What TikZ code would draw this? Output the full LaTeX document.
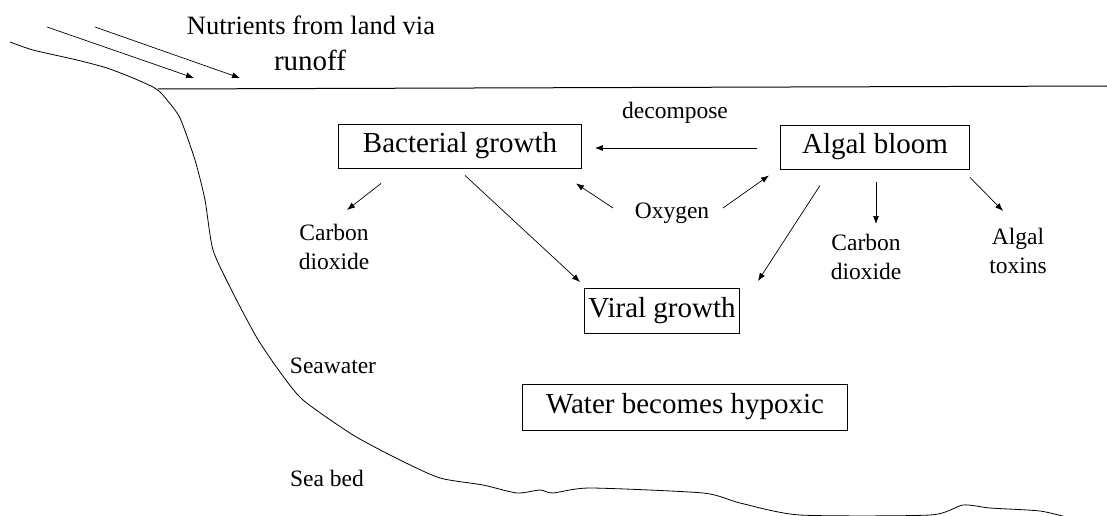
\documentclass[tikz,border=0pt]{standalone}
\usepackage{fontspec}
\setmainfont{Liberation Serif}
\usetikzlibrary{arrows.meta}

\begin{document}
\begin{tikzpicture}[x=1pt, y=-1pt,
        box/.style={draw, line width=0.9pt, minimum height=44pt, inner sep=0pt, font=\fontsize{29}{34}\selectfont},
        lbl/.style={align=center, inner sep=0pt, font=\fontsize{23.5}{29}\selectfont},
        arr/.style={-{Latex[length=8pt,width=6pt]}, line width=0.7pt}]
            \useasboundingbox (0,0) rectangle (1107,516);

            \draw[line width=0.8pt] plot[smooth, tension=0.4] coordinates {(10,42) (33,50) (77,60) (107,68) (133,78) (153,87) (160,92) (167,100) (180,118) (195,160) (205,200) (213,250) (233,293) (257,338) (280,372) (303,400) (353,435) (400,460) (440,478) (483,485) (517,493) (540,490) (553,493) (590,488) (703,493) (740,503) (800,515) (930,515) (963,505) (990,508) (1040,511) (1070,518)};
            \draw[line width=1pt] (158,89) -- (1107,86);

            \coordinate (r1) at (47,27);
            \coordinate (r1e) at (194,78);
            \coordinate (r2) at (95,27);
            \coordinate (r2e) at (240,78);
            \draw[arr] (r1) -- (r1e);
            \draw[arr] (r2) -- (r2e);

            \node (title) at (311,25) {\fontsize{26.5}{30}\selectfont Nutrients from land via};
            \node (runoff) at (310,60) {\fontsize{29}{34}\selectfont runoff};

            \node[box, minimum width=243pt] (bact) at (460,146) {Bacterial growth};
            \node[box, minimum width=189pt] (alg) at (875,147) {Algal bloom};
            \node[box, minimum width=155pt, minimum height=45pt] (viral) at (662,311) {Viral growth};
            \node[box, minimum width=325pt, minimum height=46pt] (hyp) at (685,407) {Water becomes hypoxic};

            \node[lbl] (decomp) at (675,113) {decompose};
            \node[lbl] (oxy) at (672,213) {Oxygen};
            \node[lbl] (co2a) at (334,247) {Carbon\\dioxide};
            \node[lbl] (co2b) at (866,257) {Carbon\\dioxide};
            \node[lbl] (tox) at (1018,251) {Algal\\toxins};
            \node[lbl] (sea) at (333,366) {Seawater};
            \node[lbl] (bed) at (327,478) {Sea bed};

            \draw[arr] ([shift={(-23,1)}]alg.west) -- ([shift={(13,2)}]bact.east);
            \draw[arr] ([shift={(-59,-5)}]oxy.center) -- ([shift={(-6,15)}]bact.south east);
            \draw[arr] ([shift={(51,-5)}]oxy.center) -- ([shift={(-11,6)}]alg.south west);
            \draw[arr] ([shift={(43,15)}]bact.south west) -- ([shift={(13,-37)}]co2a.center);
            \draw[arr] ([shift={(5,7)}]bact.south) -- ([shift={(-4,-6)}]viral.north west);
            \draw[arr] ([shift={(-55,16)}]alg.south) -- ([shift={(18,-7)}]viral.north east);
            \draw[arr] ([shift={(1,13)}]alg.south) -- ([shift={(10,-33)}]co2b.center);
            \draw[arr] ([shift={(0,8)}]alg.south east) -- ([shift={(-15,-40)}]tox.center);

        \end{tikzpicture}
\end{document}
